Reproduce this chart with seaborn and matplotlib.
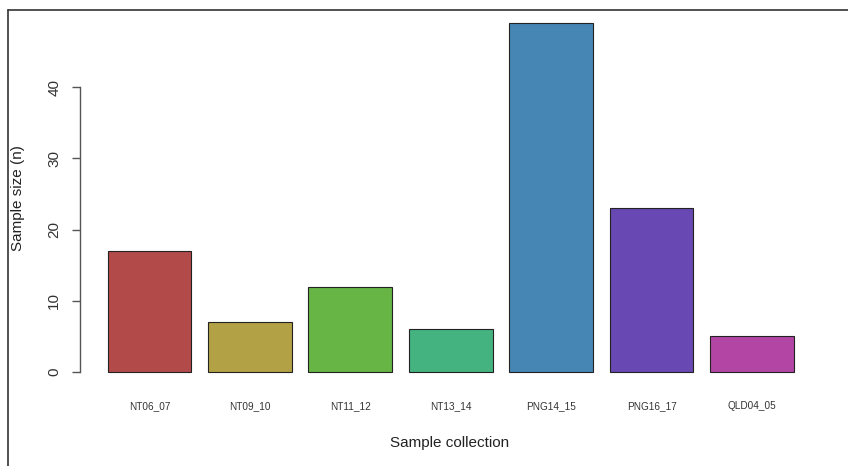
import matplotlib
matplotlib.use("Agg")
import matplotlib.pyplot as plt
import seaborn as sns
import pandas as pd
from matplotlib.lines import Line2D

# ─── Data ─────────────────────────────────────────────────────────────────────
collections = ["NT06_07", "NT09_10", "NT11_12", "NT13_14", "PNG14_15", "PNG16_17", "QLD04_05"]
sample_sizes = [17, 7, 12, 6, 49, 23, 5]
bar_colors = ["#B24A4A", "#B3A245", "#67B545", "#45B380", "#4686B4", "#6849B3", "#B346A5"]
y_ticks = [0, 10, 20, 30, 40]

sns.set_theme(style="white")
plt.rcParams["font.family"] = ["Liberation Sans", "DejaVu Sans"]

df = pd.DataFrame({"collection": collections, "n": sample_sizes})

W, H = 848, 466
fig = plt.figure(figsize=(W / 100, H / 100), dpi=100)
# axes: x 80..820 px, y 15..372 px (from top)
ax = fig.add_axes([80 / W, (H - 372) / H, 740 / W, (372 - 15) / H])

sns.barplot(data=df, x="collection", y="n", hue="collection", palette=bar_colors,
            width=0.833, edgecolor="#222222", linewidth=0.8, saturation=1,
            legend=False, ax=ax)

# place bars like R's barplot: first centre at px 149.5, pitch ~100.4 px
pitch = 100.4
ax.set_xlim(-(149.5 - 80) / pitch, (820 - 149.5) / pitch)
ax.set_ylim(0, (372 - 15) / 7.125)
for p in ax.patches:
    p.set_clip_on(False)

for s in ["top", "right", "bottom"]:
    ax.spines[s].set_visible(False)
ax.spines["left"].set_bounds(0, 40)
ax.spines["left"].set_color("#555555")
ax.spines["left"].set_linewidth(1.0)

ax.set_yticks(y_ticks)
ax.set_yticklabels([str(t) for t in y_ticks], rotation=90, va="center")
ax.tick_params(axis="y", left=True, length=6, width=1.0, color="#555555",
               pad=7.5, labelsize=11, labelcolor="#333333")
ax.tick_params(axis="x", bottom=False, length=0, pad=21, labelsize=7.2,
               labelcolor="#333333")

ax.set_xlabel("Sample collection", fontsize=11, color="#222222", labelpad=18)
ax.set_ylabel("")
ax.grid(False)
fig.text(18 / W, 1 - 198 / H, "Sample size (n)", rotation=90, ha="center", va="center",
         fontsize=11, color="#222222")

# outer frame lines (top and left)
fig.add_artist(Line2D([8 / W, 1.0], [1 - 10 / H, 1 - 10 / H], transform=fig.transFigure,
                      color="#333333", linewidth=1.2))
fig.add_artist(Line2D([8 / W, 8 / W], [0, 1 - 10 / H], transform=fig.transFigure,
                      color="#333333", linewidth=1.2))

fig.savefig("out.png", dpi=100)
